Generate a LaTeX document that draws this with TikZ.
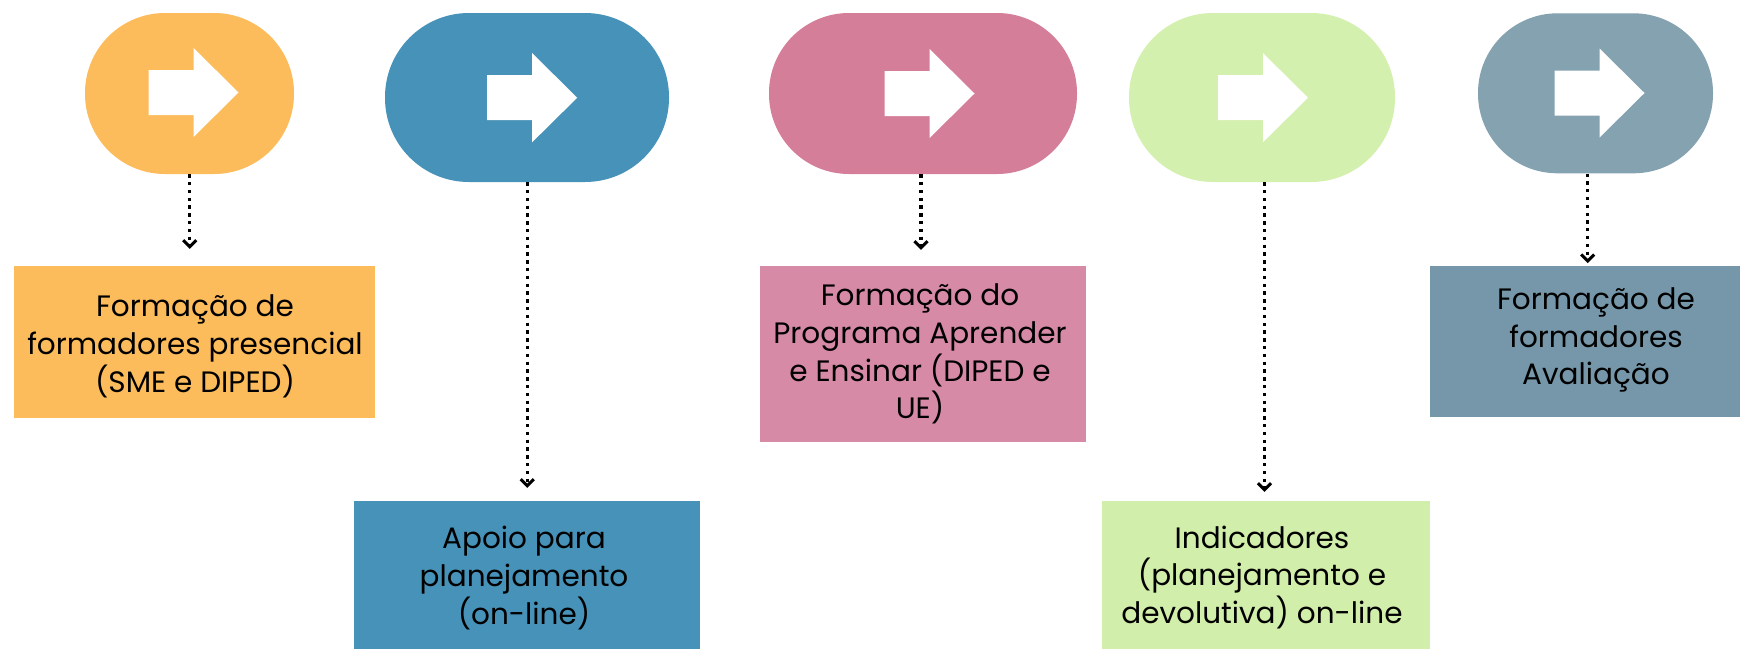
\documentclass[tikz,border=0pt]{standalone}
\usepackage{fontspec}
\setmainfont{Poppins}
\usetikzlibrary{arrows.meta}
\definecolor{cOrange}{HTML}{FDBC5B}
\definecolor{cBlue}{HTML}{4792B8}
\definecolor{cPinkPill}{HTML}{D57E9A}
\definecolor{cPinkBox}{HTML}{D68AA6}
\definecolor{cGreenPill}{HTML}{D4F0AF}
\definecolor{cGreenBox}{HTML}{D1EEAA}
\definecolor{cGrayPill}{HTML}{84A2AF}
\definecolor{cGrayBox}{HTML}{7597A9}
\tikzset{
  pillbox/.style={rectangle, inner sep=0pt, draw=none},
  infobox/.style={rectangle, inner sep=0pt, draw=none, align=center, text=black,
    font=\fontsize{29.5}{37.8}\selectfont},
  dotarrow/.style={line width=3.3pt, dash pattern=on 3.3pt off 4.5pt, draw=black,
    -{Straight Barb[length=6.5pt,width=13pt,line width=3pt]}},
  wArrow/.pic={\fill[white] (-45,-22.5) -- (0,-22.5) -- (0,-44.5) -- (45,0) -- (0,44.5) -- (0,22.5) -- (-45,22.5) -- cycle;}
}
\begin{document}
\begin{tikzpicture}[x=1pt,y=-1pt]
\useasboundingbox (0,0) rectangle (1740,648);
\clip (0,0) rectangle (1740,648);
% pills
\node[pillbox, fill=cOrange, minimum width=209pt, minimum height=161pt, rounded corners=80pt] (p1) at (189.5,93.5) {};
\node[pillbox, fill=cBlue, minimum width=284pt, minimum height=169pt, rounded corners=84pt] (p2) at (527,97.5) {};
\node[pillbox, fill=cPinkPill, minimum width=308pt, minimum height=161pt, rounded corners=80pt] (p3) at (923,93.5) {};
\node[pillbox, fill=cGreenPill, minimum width=266pt, minimum height=169pt, rounded corners=84pt] (p4) at (1262,97.5) {};
\node[pillbox, fill=cGrayPill, minimum width=235pt, minimum height=160pt, rounded corners=79.5pt] (p5) at (1595.5,93.3) {};
% white arrows
\pic at (193.5,92.5) {wArrow};
\pic at (532.2,97.7) {wArrow};
\pic at (929.5,93.5) {wArrow};
\pic at (1263,97.7) {wArrow};
\pic at (1599.5,93) {wArrow};
% boxes
\node[infobox, fill=cOrange, minimum width=361pt, minimum height=152pt] (b1) at (194.5,342) {};
\node[infobox, fill=cBlue, minimum width=346pt, minimum height=152pt] (b2) at (527,577) {};
\node[infobox, fill=cPinkBox, minimum width=326pt, minimum height=176pt] (b3) at (923,354) {};
\node[infobox, fill=cGreenBox, minimum width=328pt, minimum height=152pt] (b4) at (1266,577) {};
\node[infobox, fill=cGrayBox, minimum width=332pt, minimum height=151pt] (b5) at (1596,341.5) {};
% texts
\node[infobox] (t1) at (195,346.5) {Formação de\\formadores presencial\\(SME e DIPED)};
\node[infobox] (t2) at (524,578) {Apoio para\\planejamento\\(on-line)};
\node[infobox] (t3) at (920,354) {Formação do\\Programa Aprender\\e Ensinar (DIPED e\\UE)};
\node[infobox] (t4) at (1262,577.5) {Indicadores\\(planejamento e\\devolutiva) on-line};
\node[infobox] (t5) at (1596,340) {Formação de\\formadores\\Avaliação};
% connectors
\draw[dotarrow, shorten >=17pt] ([xshift=0.3pt]p1.south) -- ([xshift=0.3pt]p1.south |- b1.north);
\draw[dotarrow, shorten >=13pt] ([xshift=0.3pt]p2.south) -- ([xshift=0.3pt]p2.south |- b2.north);
\draw[dotarrow, shorten >=16pt] ([xshift=-2pt]p3.south) -- ([xshift=-2pt]p3.south |- b3.north);
\draw[dotarrow, shorten >=9pt] ([xshift=2.5pt]p4.south) -- ([xshift=2.5pt]p4.south |- b4.north);
\draw[dotarrow, shorten >=2.7pt] ([xshift=-7.8pt]p5.south) -- ([xshift=-7.8pt]p5.south |- b5.north);
\end{tikzpicture}
\end{document}
